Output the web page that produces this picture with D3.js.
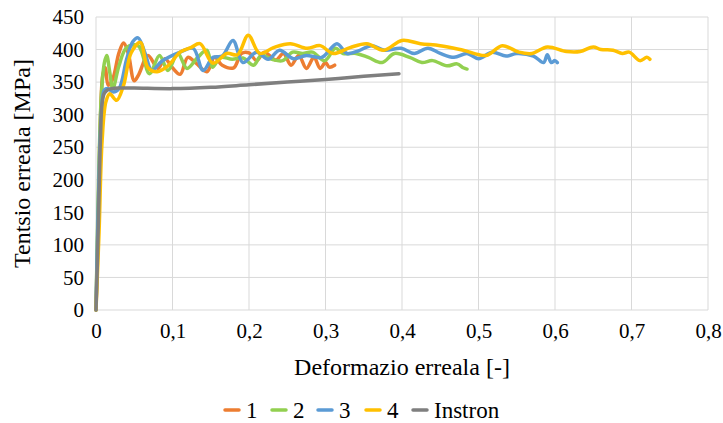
<!DOCTYPE html>
<html>
<head>
<meta charset="utf-8">
<script src="https://cdn.jsdelivr.net/npm/d3@7"></script>
<style>
  html, body { margin: 0; padding: 0; background: #fff; overflow: hidden; }
  svg { display: block; }
  svg text { font-family: "Liberation Serif", "Times New Roman", Tinos, "DejaVu Serif", serif; fill: #000; }
</style>
</head>
<body>
<svg id="chart"></svg>
<script>
const xTicks = [0, 0.1, 0.2, 0.3, 0.4, 0.5, 0.6, 0.7, 0.8];
const yTicks = [0, 50, 100, 150, 200, 250, 300, 350, 400, 450];

const series1Strain = [0, 0.003, 0.006, 0.009, 0.012, 0.016, 0.022, 0.03, 0.036, 0.042, 0.05, 0.056, 0.068, 0.081, 0.09, 0.1, 0.11, 0.12, 0.13, 0.145, 0.155, 0.165, 0.18, 0.19, 0.2, 0.21, 0.22, 0.235, 0.245, 0.255, 0.265, 0.275, 0.285, 0.293, 0.3, 0.305, 0.312];
const series1Stress = [0, 150, 300, 362, 372, 345, 355, 395, 410, 395, 352, 362, 391, 371, 386, 372, 362, 388, 380, 366, 388, 376, 372, 394, 395, 383, 396, 384, 394, 376, 391, 371, 388, 371, 380, 373, 376];

const series2Strain = [0, 0.003, 0.007, 0.011, 0.014, 0.018, 0.022, 0.03, 0.04, 0.055, 0.07, 0.083, 0.094, 0.107, 0.119, 0.133, 0.145, 0.152, 0.163, 0.178, 0.192, 0.206, 0.216, 0.23, 0.244, 0.257, 0.27, 0.283, 0.299, 0.313, 0.323, 0.34, 0.356, 0.374, 0.39, 0.41, 0.426, 0.44, 0.459, 0.472, 0.48, 0.485];
const series2Stress = [0, 180, 330, 380, 391, 365, 340, 375, 403, 406, 363, 391, 368, 394, 371, 388, 399, 373, 388, 385, 387, 376, 391, 385, 383, 396, 394, 396, 383, 402, 394, 394, 388, 380, 394, 388, 380, 383, 375, 378, 372, 370];

const series3Strain = [0, 0.003, 0.007, 0.011, 0.016, 0.022, 0.03, 0.04, 0.048, 0.055, 0.064, 0.073, 0.086, 0.11, 0.127, 0.14, 0.153, 0.165, 0.179, 0.192, 0.21, 0.225, 0.24, 0.258, 0.275, 0.295, 0.315, 0.328, 0.343, 0.36, 0.377, 0.399, 0.416, 0.434, 0.45, 0.468, 0.485, 0.5, 0.518, 0.536, 0.55, 0.572, 0.585, 0.59, 0.595, 0.6, 0.603];
const series3Stress = [0, 160, 300, 338, 340, 335, 340, 385, 412, 418, 395, 368, 382, 396, 402, 368, 388, 390, 414, 380, 396, 385, 399, 386, 391, 388, 409, 394, 398, 406, 399, 402, 394, 402, 394, 388, 394, 386, 396, 390, 394, 390, 380, 392, 380, 383, 380];

const series4Strain = [0, 0.004, 0.008, 0.013, 0.018, 0.027, 0.036, 0.046, 0.058, 0.068, 0.08, 0.094, 0.11, 0.124, 0.136, 0.153, 0.171, 0.185, 0.199, 0.214, 0.232, 0.254, 0.276, 0.293, 0.31, 0.332, 0.354, 0.376, 0.4, 0.424, 0.45, 0.48, 0.51, 0.531, 0.553, 0.57, 0.59, 0.615, 0.633, 0.65, 0.66, 0.676, 0.688, 0.697, 0.711, 0.72, 0.724];
const series4Stress = [0, 120, 260, 320, 332, 322, 345, 395, 411, 372, 366, 375, 396, 403, 409, 379, 394, 392, 422, 394, 403, 409, 402, 406, 394, 403, 409, 399, 414, 409, 406, 399, 391, 406, 396, 394, 404, 397, 397, 404, 400, 399, 394, 396, 383, 388, 385];

const instronStrain = [0, 0.002, 0.004, 0.006, 0.008, 0.011, 0.015, 0.02, 0.03, 0.05, 0.1, 0.15, 0.2, 0.25, 0.3, 0.35, 0.396];
const instronStress = [0, 80, 180, 270, 318, 333, 338, 340, 341, 341, 340, 342, 346, 350, 354, 359, 363];

const seriesNames = ["1", "2", "3", "4", "Instron"];
const seriesColors = ["#ED7D31", "#92D050", "#5B9BD5", "#FFC000", "#7F7F7F"];

const width = 723, height = 423;
const margin = { top: 17, right: 15, bottom: 113, left: 96 };

const svg = d3.select("#chart").attr("width", width).attr("height", height);

const x = d3.scaleLinear().domain([0, 0.8]).range([margin.left, width - margin.right]);
const y = d3.scaleLinear().domain([0, 450]).range([height - margin.bottom, margin.top]);

const fmt = d => d === 0 ? "0" : String(d).replace(".", ",");
const serif = '"Liberation Serif", "Times New Roman", Tinos, "DejaVu Serif", serif';

// grid
svg.append("g")
  .selectAll("line")
  .data(yTicks)
  .join("line")
  .attr("x1", x(0)).attr("x2", x(0.8))
  .attr("y1", d => y(d)).attr("y2", d => y(d))
  .attr("stroke", "#d9d9d9").attr("stroke-width", 1);

svg.append("g")
  .selectAll("line")
  .data(xTicks)
  .join("line")
  .attr("x1", d => x(d)).attr("x2", d => x(d))
  .attr("y1", y(0)).attr("y2", y(450))
  .attr("stroke", "#d9d9d9").attr("stroke-width", 1);

// axes (labels only)
const xAxis = svg.append("g")
  .attr("transform", `translate(0, ${y(0)})`)
  .call(d3.axisBottom(x).tickValues(xTicks).tickFormat(fmt).tickSize(0).tickPadding(13));
xAxis.attr("font-family", serif).attr("font-size", 21);
xAxis.select(".domain").remove();

const yAxis = svg.append("g")
  .attr("transform", `translate(${x(0)}, 0)`)
  .call(d3.axisLeft(y).tickValues(yTicks).tickSize(0).tickPadding(12));
yAxis.attr("font-family", serif).attr("font-size", 21);
yAxis.select(".domain").remove();

// lines
const line = d3.line()
  .x(d => x(d[0]))
  .y(d => y(d[1]))
  .curve(d3.curveCatmullRom.alpha(0.5));

const allSeries = [
  d3.zip(series1Strain, series1Stress),
  d3.zip(series2Strain, series2Stress),
  d3.zip(series3Strain, series3Stress),
  d3.zip(series4Strain, series4Stress),
  d3.zip(instronStrain, instronStress)
];

svg.append("g")
  .selectAll("path")
  .data(allSeries)
  .join("path")
  .attr("fill", "none")
  .attr("stroke", (d, i) => seriesColors[i])
  .attr("stroke-width", 3.5)
  .attr("stroke-linejoin", "round")
  .attr("stroke-linecap", "round")
  .attr("d", d => line(d));

// axis titles
svg.append("text")
  .attr("x", (x(0) + x(0.8)) / 2)
  .attr("y", 375)
  .attr("text-anchor", "middle")
  .attr("font-size", 24)
  .text("Deformazio erreala [-]");

svg.append("text")
  .attr("transform", `translate(30, ${(y(0) + y(450)) / 2}) rotate(-90)`)
  .attr("text-anchor", "middle")
  .attr("font-size", 24)
  .text("Tentsio erreala [MPa]");

// legend
const legendX = [225, 272, 318, 366, 413];
const legend = svg.append("g")
  .selectAll("g")
  .data(seriesNames)
  .join("g")
  .attr("transform", (d, i) => `translate(${legendX[i]}, 410)`);
legend.append("line")
  .attr("x1", 0).attr("x2", 14)
  .attr("stroke", (d, i) => seriesColors[i])
  .attr("stroke-width", 3.5)
  .attr("stroke-linecap", "round");
legend.append("text")
  .attr("x", 21)
  .attr("y", 8)
  .attr("font-size", 23)
  .text(d => d);
</script>
</body>
</html>
